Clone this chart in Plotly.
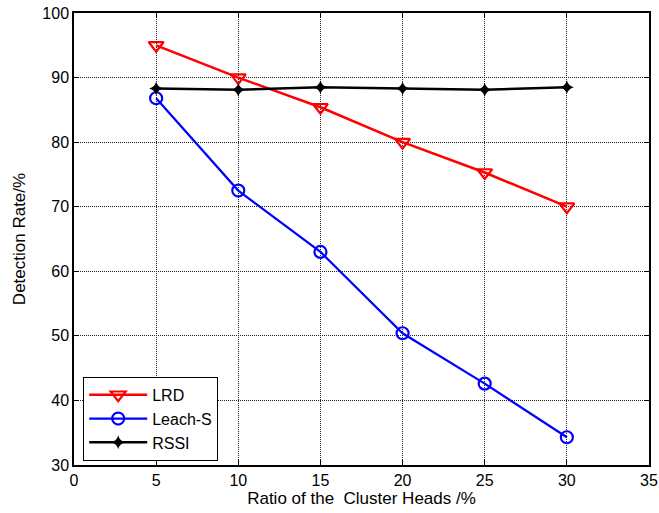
import plotly.graph_objects as go

x_ratio = [5, 10, 15, 20, 25, 30]
lrd = [95.0, 90.0, 85.4, 80.0, 75.3, 70.0]
leach_s = [86.8, 72.5, 63.0, 50.4, 42.6, 34.3]
rssi = [88.3, 88.1, 88.5, 88.3, 88.1, 88.5]

x_ticks = [0, 5, 10, 15, 20, 25, 30, 35]
y_ticks = [30, 40, 50, 60, 70, 80, 90, 100]

font_family = "Liberation Sans, Arial, sans-serif"

fig = go.Figure()
fig.add_trace(go.Scatter(
    x=x_ratio, y=lrd, name="LRD", mode="lines+markers",
    line=dict(color="#ff0000", width=2.5),
    marker=dict(symbol="triangle-down-open", size=13, color="#ff0000", line=dict(width=2.2)),
))
fig.add_trace(go.Scatter(
    x=x_ratio, y=leach_s, name="Leach-S", mode="lines+markers",
    line=dict(color="#0000ff", width=2.2),
    marker=dict(symbol="circle-open", size=12, color="#0000ff", line=dict(width=2.2)),
))
fig.add_trace(go.Scatter(
    x=x_ratio, y=rssi, name="RSSI", mode="lines+markers",
    line=dict(color="#000000", width=2.5),
    marker=dict(symbol="star-diamond", size=10, color="#000000"),
))

axis_common = dict(
    showline=True, linecolor="black", linewidth=1.5, mirror="ticks",
    ticks="inside", ticklen=5, tickcolor="black",
    showgrid=True, gridcolor="#222222", griddash="1px,1px", gridwidth=1,
    zeroline=False, automargin=False,
    tickfont=dict(family=font_family, size=16, color="black"),
)

fig.update_layout(
    width=659, height=513,
    margin=dict(l=74, r=10, t=13, b=48, autoexpand=False),
    paper_bgcolor="white", plot_bgcolor="white",
    font=dict(family=font_family, size=16, color="black"),
    xaxis=dict(range=[0, 35], tickvals=x_ticks,
               title=dict(text="Ratio of the  Cluster Heads /%", standoff=2,
                          font=dict(family=font_family, size=17)),
               **axis_common),
    yaxis=dict(range=[30, 100], tickvals=y_ticks,
               title=dict(text="Detection Rate/%", standoff=12,
                          font=dict(family=font_family, size=17)),
               **axis_common),
    legend=dict(
        x=0.016, y=0.195, xanchor="left", yanchor="top",
        bgcolor="white", bordercolor="black", borderwidth=1,
        font=dict(family=font_family, size=16, color="black"),
        tracegroupgap=0, itemwidth=58,
    ),
)

fig.write_html("out.html")
